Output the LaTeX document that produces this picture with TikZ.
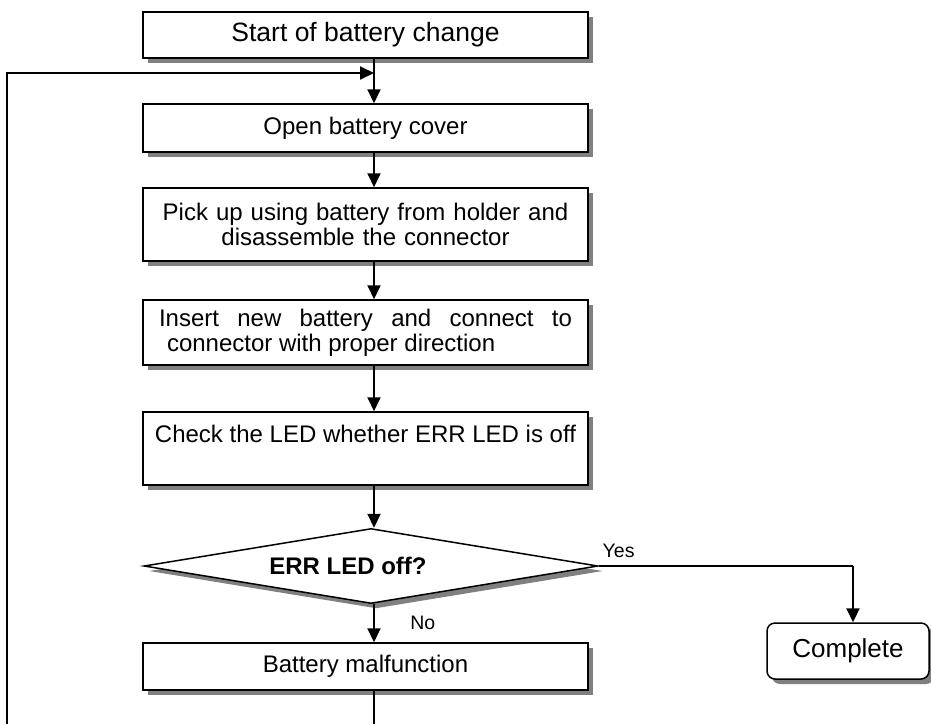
\documentclass[tikz,border=0pt]{standalone}
\usepackage{fontspec}
\setmainfont{Liberation Sans}
\usetikzlibrary{shapes.geometric,arrows.meta,shadows,positioning}

\begin{document}
\begin{tikzpicture}[
    x=1pt, y=-1pt,
    stepbox/.style={rectangle, draw, line width=1.5pt, fill=white, minimum width=445pt, inner sep=0pt, align=center,
        font=\fontsize{24}{25}\selectfont,
        drop shadow={shadow xshift=5pt, shadow yshift=-5pt, fill=gray, opacity=1}},
    decision/.style={diamond, draw, line width=1.5pt, fill=white, shape aspect=6, minimum width=454pt, minimum height=75pt, inner sep=0pt,
        font=\fontsize{24}{25}\selectfont\bfseries,
        drop shadow={shadow xshift=5pt, shadow yshift=-5pt, fill=gray, opacity=1}},
    endbox/.style={rectangle, rounded corners=8pt, draw, line width=1.5pt, fill=white, minimum width=162pt, minimum height=56pt,
        font=\fontsize{26}{28}\selectfont,
        drop shadow={shadow xshift=5pt, shadow yshift=-5pt, fill=gray, opacity=1}},
    arrow/.style={-{Triangle[length=14pt, width=13pt]}, line width=2pt},
    link/.style={line width=2pt},
    tag/.style={font=\fontsize{19.5}{20}\selectfont}
]
\useasboundingbox (0,0) rectangle (931,724);

% main column
\node[stepbox, minimum height=46pt] (start) at (365.5,35) {\fontsize{26.5}{28}\selectfont Start of battery change};
\node[stepbox, minimum height=48pt] (open) at (365.5,128) {Open battery cover};
\node[stepbox, minimum height=73pt, text width=430pt] (pick) at (365.5,224.5) {Pick up using battery from holder and\\ disassemble the connector};
\node[stepbox, minimum height=65pt, text width=413pt, align=justify] (insert) at (365.5,332.5) {Insert new battery and connect to\linebreak \hspace*{8pt}connector with proper direction};
\node[stepbox, minimum height=73pt] (check) at (365.5,448.5) {Check the LED whether ERR LED is off\\[4pt] \mbox{}};
\node[decision] (test) at (371,566) {ERR LED off?\hspace*{46pt}};
\node[stepbox, minimum height=47pt] (fail) at (365.5,666.5) {Battery malfunction};
\node[endbox] (done) at (848,651) {Complete};

% helper points
\coordinate (ax) at (374,0);
\coordinate (join) at (374,73);
\coordinate (loopbot) at (7,724);
\coordinate (failbot) at (374,724);
\coordinate (yesturn) at (853,566);

\draw[arrow] (start.south -| ax) -- (open.north -| ax);
\draw[arrow] (open.south -| ax) -- (pick.north -| ax);
\draw[arrow] (pick.south -| ax) -- (insert.north -| ax);
\draw[arrow] (insert.south -| ax) -- (check.north -| ax);
\draw[arrow] (check.south -| ax) -- (test.north -| ax);
\draw[arrow] (test.south -| ax) -- (fail.north -| ax) node[tag, midway, right=32pt] {No};
\draw[link] (fail.south -| ax) -- (failbot);
\draw[arrow] (loopbot) |- (join);

\draw[line width=1.2pt] (test.east) -- (yesturn) node[tag, pos=0, above right=4pt and 0pt] {Yes};
\draw[arrow] (yesturn) -- (done.north -| yesturn);

\end{tikzpicture}
\end{document}
